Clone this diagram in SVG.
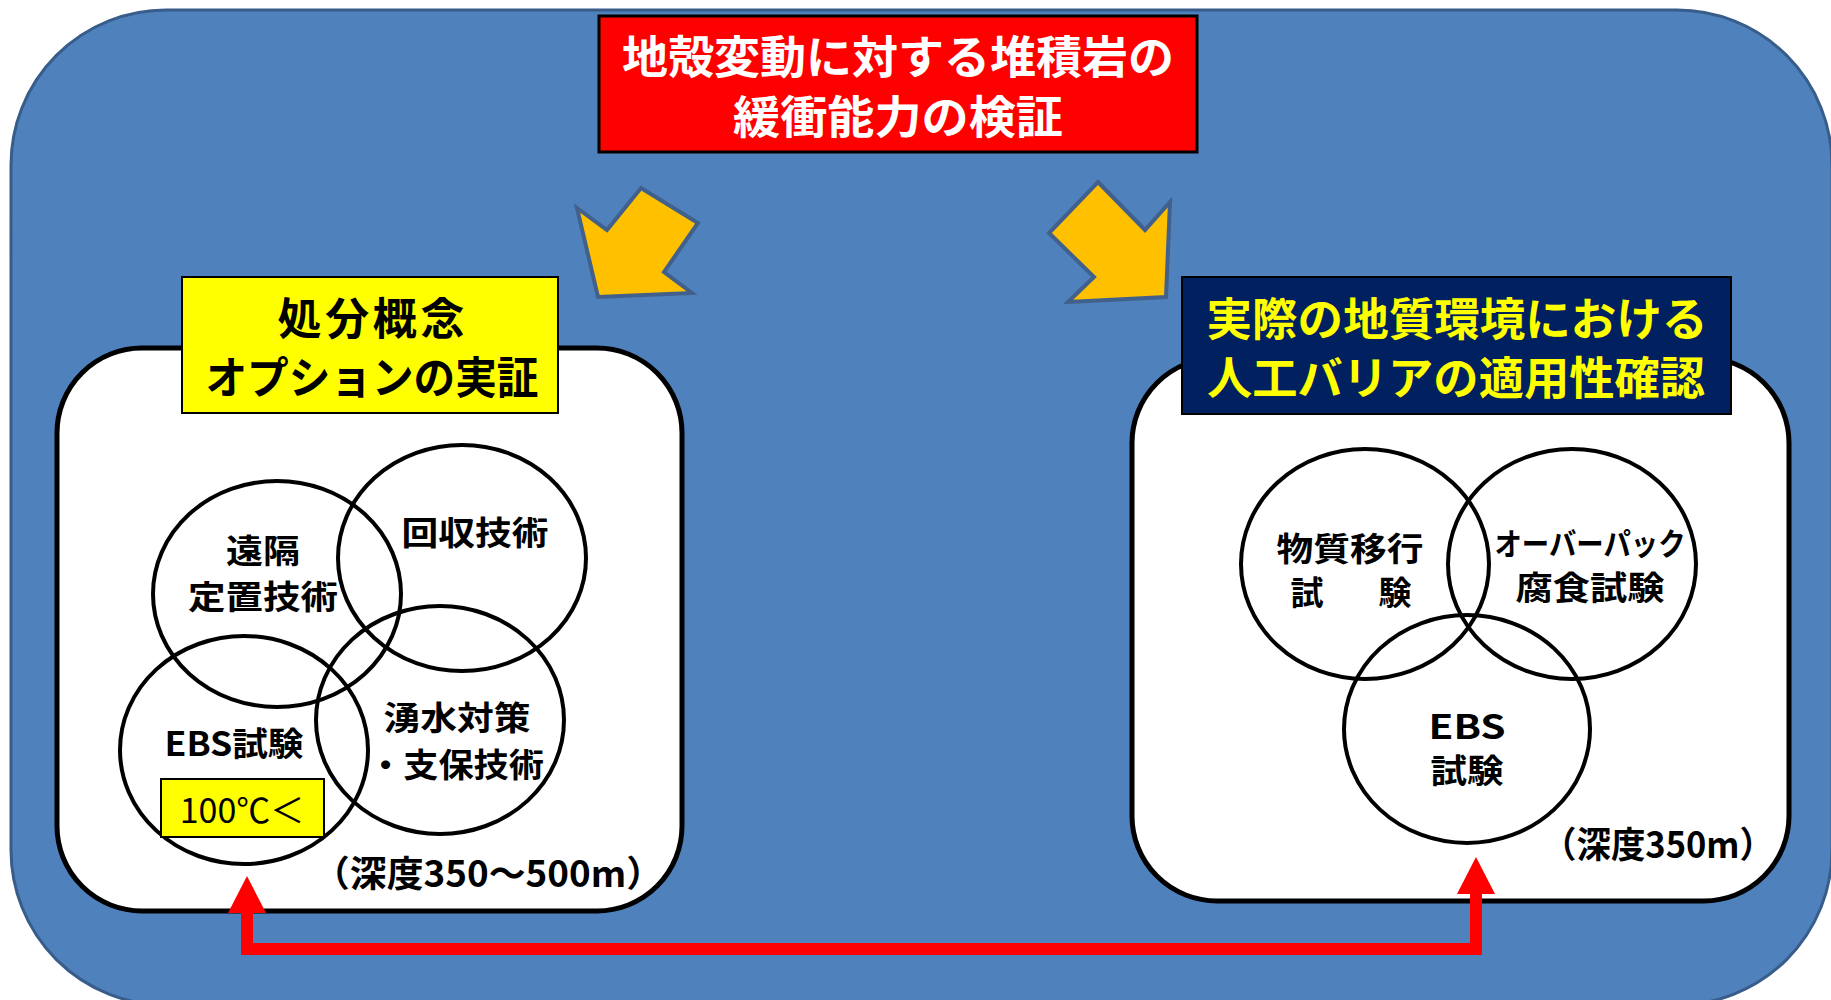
<svg xmlns="http://www.w3.org/2000/svg" width="1831" height="1000" viewBox="0 0 1831 1000">
<defs>
<style>
.t{font-family:"Noto Sans CJK JP","Noto Sans",sans-serif;font-weight:bold;text-anchor:middle;dominant-baseline:central}
.c{font-size:33px;fill:#000}
.panel{fill:#fff;stroke:#000;stroke-width:5}
.venn{fill:none;stroke:#000;stroke-width:4}
.yarrow{fill:#FFC000;stroke:#41618C;stroke-width:4;stroke-linejoin:miter}
</style>
<marker id="ah" markerUnits="userSpaceOnUse" markerWidth="37" markerHeight="38" viewBox="0 0 37 38" refX="2" refY="19" orient="auto-start-reverse">
<path d="M0,0 L37,19 L0,38 z" fill="#FF0000"/>
</marker>
</defs>
<rect x="11" y="10" width="1821" height="995" rx="155" ry="155" fill="#4F81BD" stroke="#385D8A" stroke-width="3"/>

<g id="title">
<rect x="599" y="16" width="598" height="136" fill="#FF0000" stroke="#000" stroke-width="3"/>
<text class="t" font-size="45" fill="#fff"><tspan x="898" y="54" textLength="552" lengthAdjust="spacingAndGlyphs">地殻変動に対する堆積岩の</tspan><tspan x="898" y="114" textLength="330" lengthAdjust="spacingAndGlyphs">緩衝能力の検証</tspan></text>
</g>

<g id="arrow-left">
<polygon class="yarrow" points="641,188 698,223 664,272 692,293 598,297 577,208 607,230"/>
</g>
<g id="arrow-right">
<polygon class="yarrow" points="1098,182 1145,230 1170,202 1166,297 1068,302 1094,277 1049,233"/>
</g>

<g id="panel-left">
<rect class="panel" x="57" y="348" width="625" height="563" rx="85" ry="85"/>
<rect x="182" y="277" width="376" height="136" fill="#FFFF00" stroke="#000" stroke-width="2"/>
<text class="t" font-size="44" fill="#000"><tspan x="371" y="316" textLength="187" lengthAdjust="spacing">処分概念</tspan><tspan x="372" y="375" textLength="333" lengthAdjust="spacingAndGlyphs">オプションの実証</tspan></text>
</g>

<g id="node-enkaku">
<ellipse class="venn" cx="277" cy="594" rx="124" ry="113"/>
<text class="t c"><tspan x="263" y="549" textLength="74" lengthAdjust="spacingAndGlyphs">遠隔</tspan><tspan x="263" y="595" textLength="150" lengthAdjust="spacingAndGlyphs">定置技術</tspan></text>
</g>
<g id="node-kaishu">
<ellipse class="venn" cx="462" cy="558" rx="124" ry="113"/>
<text class="t c" x="475" y="531" textLength="147" lengthAdjust="spacingAndGlyphs">回収技術</text>
</g>
<g id="node-ebs-left">
<ellipse class="venn" cx="244" cy="750" rx="124" ry="114"/>
<text class="t c" x="234" y="742" textLength="139" lengthAdjust="spacingAndGlyphs">EBS試験</text>
</g>
<g id="node-yusui">
<ellipse class="venn" cx="440" cy="720" rx="124" ry="114"/>
<text class="t c"><tspan x="457" y="716" textLength="147" lengthAdjust="spacingAndGlyphs">湧水対策</tspan><tspan x="456" y="763" textLength="176" lengthAdjust="spacingAndGlyphs">・支保技術</tspan></text>
</g>
<g id="node-100c">
<rect x="161" y="779" width="163" height="58" fill="#FFFF00" stroke="#000" stroke-width="2"/>
<text class="t" x="242" y="808" font-size="34" style="font-weight:normal" fill="#000">100℃＜</text>
</g>
<text class="t" x="488" y="871" font-size="36" fill="#000" textLength="350" lengthAdjust="spacingAndGlyphs">（深度350～500m）</text>

<g id="panel-right">
<rect class="panel" x="1132" y="358" width="657" height="543" rx="85" ry="85"/>
<rect x="1182" y="277" width="549" height="137" fill="#002060" stroke="#000" stroke-width="2"/>
<text class="t" font-size="45" fill="#FFFF00"><tspan x="1457" y="316" textLength="501" lengthAdjust="spacingAndGlyphs">実際の地質環境における</tspan><tspan x="1456" y="375" textLength="498" lengthAdjust="spacingAndGlyphs">人工バリアの適用性確認</tspan></text>
</g>

<g id="node-busshitsu">
<ellipse class="venn" cx="1365" cy="564" rx="124" ry="115"/>
<text class="t c"><tspan x="1350" y="547" textLength="147" lengthAdjust="spacingAndGlyphs">物質移行</tspan><tspan x="1351" y="591" textLength="121" lengthAdjust="spacing">試　験</tspan></text>
</g>
<g id="node-overpack">
<ellipse class="venn" cx="1572" cy="564" rx="124" ry="115"/>
<text class="t" fill="#000"><tspan x="1590" y="541" font-size="31" textLength="191" lengthAdjust="spacingAndGlyphs">オーバーパック</tspan><tspan x="1590" y="586" font-size="33" textLength="149" lengthAdjust="spacingAndGlyphs">腐食試験</tspan></text>
</g>
<g id="node-ebs-right">
<ellipse class="venn" cx="1467" cy="729" rx="123" ry="114"/>
<text class="t c"><tspan x="1467" y="725" textLength="77" lengthAdjust="spacingAndGlyphs">EBS</tspan><tspan x="1467" y="769" textLength="73" lengthAdjust="spacingAndGlyphs">試験</tspan></text>
</g>
<text class="t" x="1658" y="842" font-size="36" fill="#000" textLength="232" lengthAdjust="spacingAndGlyphs">（深度350m）</text>

<g id="connectors">
<path d="M247,911 V949 H1476 V892" fill="none" stroke="#FF0000" stroke-width="12" stroke-linejoin="miter" marker-start="url(#ah)" marker-end="url(#ah)"/>
</g>
</svg>
